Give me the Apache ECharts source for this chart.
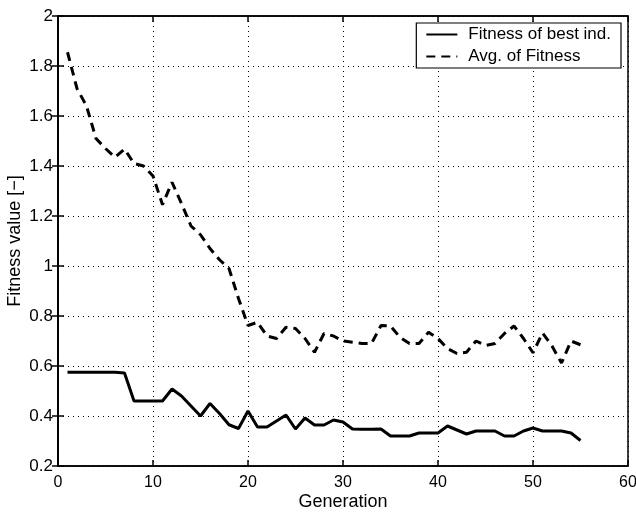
<!DOCTYPE html>
<html>
<head>
<meta charset="utf-8">
<script src="https://cdn.jsdelivr.net/npm/echarts@6/dist/echarts.min.js"></script>
<style>html,body{margin:0;padding:0;background:#fff}#c{width:636px;height:512px}</style>
</head>
<body>
<div id="c"></div>
<script>
const generations = Array.from({length: 55}, (_, i) => i + 1);
const bestFitness = [0.575,0.575,0.575,0.575,0.575,0.575,0.572,0.46,0.46,0.46,
  0.46,0.508,0.48,0.44,0.40,0.45,0.41,0.365,0.35,0.42,
  0.356,0.356,0.38,0.404,0.348,0.392,0.364,0.364,0.384,0.376,
  0.348,0.347,0.347,0.348,0.32,0.32,0.32,0.332,0.332,0.332,
  0.36,0.344,0.328,0.34,0.34,0.34,0.32,0.32,0.34,0.352,
  0.34,0.34,0.34,0.332,0.302];
const avgFitness = [1.855,1.71,1.64,1.51,1.47,1.435,1.468,1.41,1.40,1.36,
  1.245,1.335,1.25,1.16,1.125,1.07,1.025,0.99,0.87,0.762,
  0.775,0.72,0.71,0.755,0.75,0.71,0.655,0.73,0.72,0.70,
  0.695,0.69,0.69,0.762,0.76,0.715,0.69,0.69,0.735,0.71,
  0.67,0.65,0.655,0.70,0.682,0.69,0.73,0.76,0.71,0.653,
  0.732,0.68,0.612,0.70,0.685];
const xTicks = [0,10,20,30,40,50,60];
const yTicks = [0.2,0.4,0.6,0.8,1,1.2,1.4,1.6,1.8,2];

const font = 'Liberation Sans, Arial, Helvetica, sans-serif';
const chart = echarts.init(document.getElementById('c'));
const pair = (arr) => generations.map((g, i) => [g, arr[i]]);
const gridLine = {show: true, lineStyle: {color: '#000', type: [1, 4], width: 1}};
const tick = {show: true, inside: true, length: 6, lineStyle: {color: '#000', width: 1.5}};
const axLine = {show: true, lineStyle: {color: '#000', width: 1.5}};
chart.setOption({
  animation: false,
  backgroundColor: '#fff',
  grid: {left: 58, right: 8, top: 16, bottom: 46, show: true, borderColor: '#000', borderWidth: 1.5,
    backgroundColor: 'transparent', containLabel: false, outerBoundsMode: 'none'},
  legend: {
    right: 15, top: 23, orient: 'vertical', itemWidth: 31, itemHeight: 14, itemGap: 5,
    padding: [3, 10, 3, 9],
    backgroundColor: '#fff', borderColor: '#000', borderWidth: 1.2, borderRadius: 0,
    textStyle: {fontFamily: font, fontSize: 17, color: '#000', padding: [0, 0, 0, 6]},
    itemStyle: {opacity: 0},
    data: ['Fitness of best ind.', 'Avg. of Fitness']
  },
  xAxis: [{
    type: 'value', min: 0, max: 60, interval: 10, position: 'bottom',
    name: 'Generation', nameLocation: 'middle', nameGap: 27, nameMoveOverlap: false,
    nameTextStyle: {fontFamily: font, fontSize: 18, color: '#000'},
    axisLine: axLine, axisTick: tick,
    axisLabel: {fontFamily: font, fontSize: 16, color: '#000', margin: 9},
    splitLine: gridLine
  }, {
    type: 'value', min: 0, max: 60, interval: 10, position: 'top',
    axisLine: axLine, axisTick: tick,
    axisLabel: {show: false}, splitLine: {show: false}
  }],
  yAxis: [{
    type: 'value', min: 0.2, max: 2, interval: 0.2, position: 'left',
    name: 'Fitness value [−]', nameLocation: 'middle', nameGap: 34, nameRotate: 90, nameMoveOverlap: false,
    nameTextStyle: {fontFamily: font, fontSize: 18, color: '#000'},
    axisLine: axLine, axisTick: tick,
    axisLabel: {fontFamily: font, fontSize: 17, color: '#000', margin: 5,
      formatter: v => { const r = Math.round(v * 10) / 10; return yTicks.includes(r) ? String(r) : ''; }},
    splitLine: gridLine
  }, {
    type: 'value', min: 0.2, max: 2, interval: 0.2, position: 'right',
    axisLine: axLine, axisTick: tick,
    axisLabel: {show: false}, splitLine: {show: false}
  }],
  series: [{
    name: 'Fitness of best ind.', type: 'line', data: pair(bestFitness),
    showSymbol: false, symbol: 'none',
    lineStyle: {color: '#000', width: 3, type: 'solid'},
    itemStyle: {color: '#000'}
  }, {
    name: 'Avg. of Fitness', type: 'line', data: pair(avgFitness),
    showSymbol: false, symbol: 'none',
    lineStyle: {color: '#000', width: 3, type: [9, 6]},
    itemStyle: {color: '#000'}
  }]
});
</script>
</body>
</html>
